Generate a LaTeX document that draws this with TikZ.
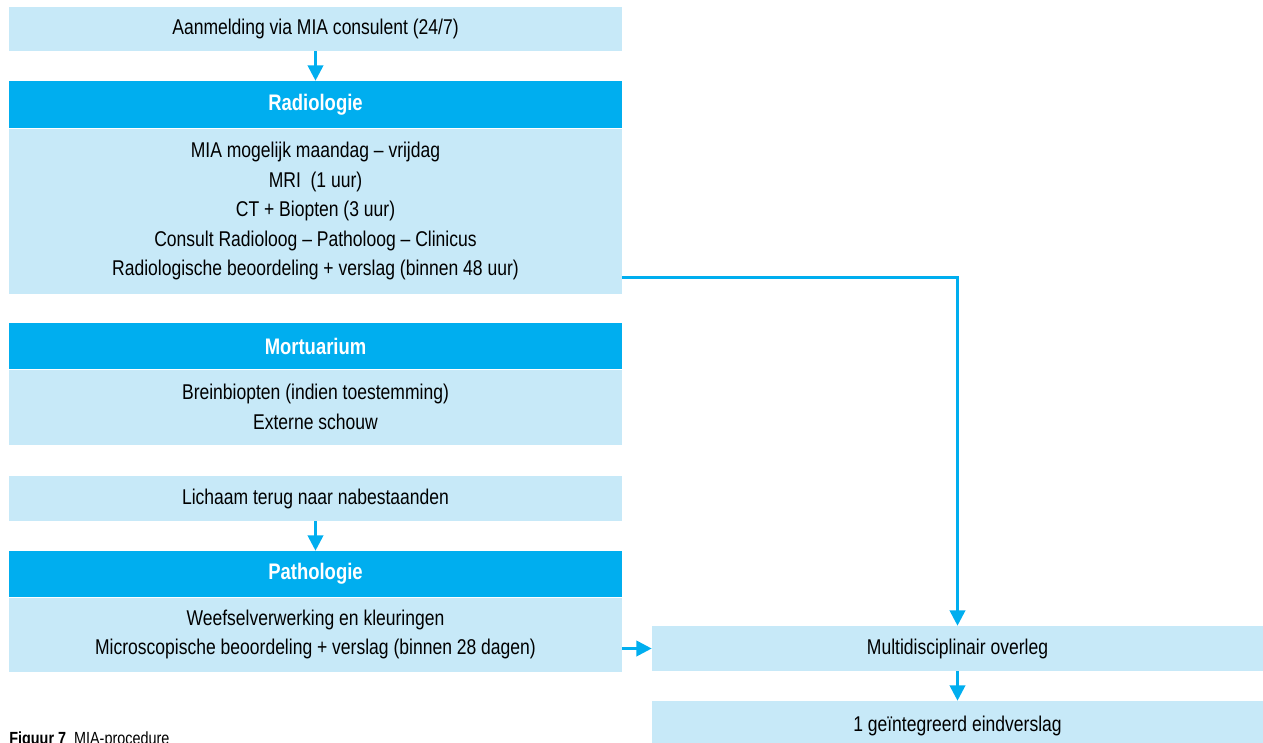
\documentclass[tikz,border=0pt]{standalone}
\usepackage{fontspec}
\setmainfont[FakeStretch=0.82]{Liberation Sans}
\usetikzlibrary{
  positioning,
  arrows.meta
}
\definecolor{miacyan}{HTML}{00AEEF}
\definecolor{mialight}{HTML}{C7E9F8}

\begin{document}
\begin{tikzpicture}[
  node distance=0cm,
  lightbox/.style={
    fill=mialight,
    minimum width=15.325cm,
    align=center,
    inner sep=0pt,
    font=\fontsize{15.2}{21}\selectfont
  },
  headbox/.style={
    fill=miacyan,
    minimum width=15.325cm,
    inner sep=0pt,
    text=white,
    font=\fontsize{16}{18}\selectfont\bfseries
  },
  arrow/.style={-{Triangle[length=11pt,width=11pt]}, draw=miacyan, line width=2pt}
]

% Canvas
\useasboundingbox (0,0) rectangle (31.575,-18.55);

% ==================== LEFT COLUMN ====================
\node[lightbox, minimum height=1.1cm] (aanmelding) at (7.8875,-0.725) {Aanmelding via MIA consulent (24/7)};

% Radiologie
\node[headbox, minimum height=1.175cm] (radhead) at (7.8875,-2.6125) {Radiologie};
\node[lightbox, minimum height=4.125cm, below=of radhead] (radbody) {
  MIA mogelijk maandag -- vrijdag \\
  MRI \ (1 uur) \\
  CT + Biopten (3 uur) \\
  Consult Radioloog -- Patholoog -- Clinicus \\
  Radiologische beoordeling + verslag (binnen 48 uur)
};

% Mortuarium
\node[headbox, minimum height=1.15cm] (morthead) at (7.8875,-8.65) {Mortuarium};
\node[lightbox, minimum height=1.875cm, below=of morthead] (mortbody) {
  Breinbiopten (indien toestemming) \\
  Externe schouw
};

\node[lightbox, minimum height=1.125cm] (lichaam) at (7.8875,-12.4625) {Lichaam terug naar nabestaanden};

% Pathologie
\node[headbox, minimum height=1.15cm] (pathhead) at (7.8875,-14.35) {Pathologie};
\node[lightbox, minimum height=1.85cm, below=of pathhead] (pathbody) {
  Weefselverwerking en kleuringen \\
  Microscopische beoordeling + verslag (binnen 28 dagen)
};

% ==================== RIGHT COLUMN ====================
\node[lightbox, minimum width=15.275cm, minimum height=1.125cm] (mdo) at (23.9375,-16.2125) {Multidisciplinair overleg};
\node[lightbox, minimum width=15.275cm, minimum height=1.25cm] (eindverslag) at (23.9375,-18.15) {1 geïntegreerd eindverslag};

% Caption
\node[anchor=base west, inner sep=0pt, font=\fontsize{12.5}{14}\selectfont] (caption) at (0.225,-18.62) {\textbf{Figuur 7} \ MIA-procedure};

% Arrows
\draw[arrow] (aanmelding) -- (radhead);
\draw[arrow] (lichaam) -- (pathhead);
\draw[arrow] (pathbody.east |- mdo.west) -- (mdo.west);
\draw[arrow] ([yshift=0.4cm]radbody.south east) -| (mdo.north);
\draw[arrow] (mdo) -- (eindverslag);

\end{tikzpicture}
\end{document}
